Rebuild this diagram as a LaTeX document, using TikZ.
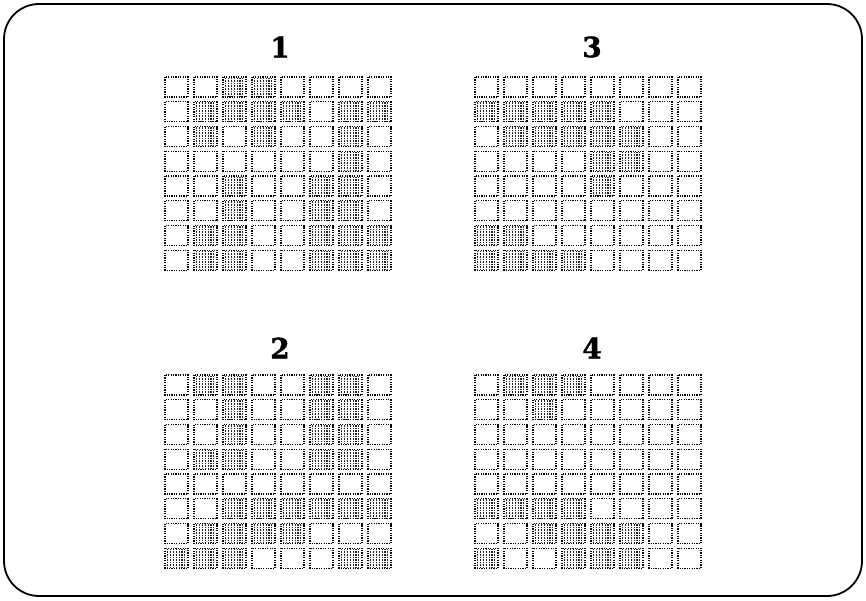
\documentclass[tikz,border=0pt]{standalone}
\usepackage{fontspec}
\newfontfamily\lblfont{DejaVu Serif}[BoldFeatures={FakeBold=1.2}]
\begin{document}
\begin{tikzpicture}[x=1pt,y=-1pt,
  frame/.style={draw=black,line width=1.8pt,rounded corners=35pt},
  cellbox/.style={draw=black,line width=1.15pt,dash pattern=on 1.2pt off 1.2pt},
  hatch/.style={draw=black!85,line width=1.05pt,dash pattern=on 1.6pt off 1.0pt},
  lbl/.style={font=\lblfont\bfseries\fontsize{28}{30}\selectfont,inner sep=0pt}]
\useasboundingbox (0,0) rectangle (866,600);
\draw[frame] (4,4) rectangle (862,596);
\newcommand\cellgrid[3]{%
  \foreach \rw [count=\r from 0] in {#3} {
    \foreach \v [count=\c from 0] in \rw {
      \pgfmathsetmacro\cx{#1+29*\c}
      \pgfmathsetmacro\cy{#2+24.75*\r}
      \ifnum\v=1
        \foreach \k in {1,...,7} {
          \draw[hatch] (\cx+2.9*\k-0.4,\cy+0.6) -- (\cx+2.9*\k-0.4,\cy+19.4);
        }
      \fi
      \draw[cellbox] (\cx,\cy) rectangle (\cx+23,\cy+20);
    }
  }
}
\node[lbl] (l1) at (280,47) {1};
\node[lbl] (l3) at (592,47) {3};
\node[lbl] (l2) at (280,348) {2};
\node[lbl] (l4) at (592,348) {4};
\cellgrid{165}{77}{{0,0,1,1,0,0,0,0},{0,1,1,1,1,0,1,1},{0,1,0,1,0,0,1,0},{0,0,0,0,0,0,1,0},{0,0,1,0,0,1,1,0},{0,0,1,0,0,1,1,0},{0,1,1,0,0,1,1,1},{0,1,1,0,0,1,1,1}}
\cellgrid{475}{77}{{0,0,0,0,0,0,0,0},{1,1,1,1,1,0,0,0},{0,1,1,1,1,1,0,0},{0,0,0,0,1,1,0,0},{0,0,0,0,1,0,0,0},{0,0,0,0,0,0,0,0},{1,1,0,0,0,0,0,0},{1,1,1,1,0,0,0,0}}
\cellgrid{165}{375}{{0,1,1,0,0,1,1,0},{0,0,1,0,0,1,1,0},{0,0,1,0,0,1,1,0},{0,1,1,0,0,1,1,0},{0,0,0,0,0,0,0,0},{0,0,1,1,1,1,1,1},{0,1,1,1,1,0,0,0},{1,1,1,0,0,0,1,1}}
\cellgrid{475}{375}{{0,1,1,1,0,0,0,0},{0,0,1,0,0,0,0,0},{0,0,0,0,0,0,0,0},{0,0,0,0,0,0,0,0},{0,0,0,0,0,0,0,0},{1,1,1,1,0,0,0,0},{0,0,1,1,1,1,0,0},{1,0,0,1,1,1,0,0}}
\end{tikzpicture}
\end{document}
